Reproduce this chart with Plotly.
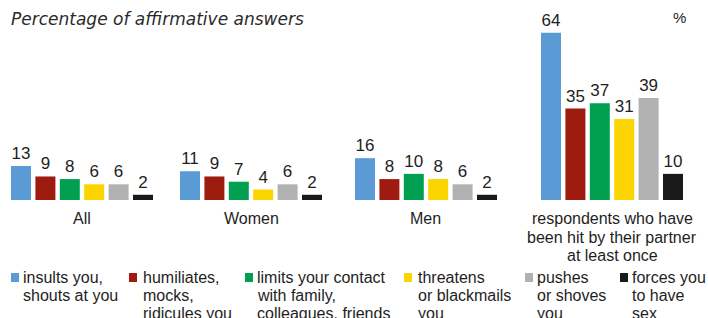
import plotly.graph_objects as go

# ---------------- data ----------------
groups = ["All", "Women", "Men", "respondents who have<br>been hit by their partner<br>at least once"]
series_names = [
    "insults you,<br>shouts at you",
    "humiliates,<br>mocks,<br>ridicules you",
    "limits your contact<br>with family,<br>colleagues, friends",
    "threatens<br>or blackmails<br>you",
    "pushes<br>or shoves<br>you",
    "forces you<br>to have<br>sex",
]
series_colors = ["#5b9bd5", "#9e1b10", "#00a050", "#fcd400", "#b0b1b0", "#1a1a1a"]
# values per series, in group order
insults = [13, 11, 16, 64]
humiliates = [9, 9, 8, 35]
limits = [8, 7, 10, 37]
threatens = [6, 4, 8, 31]
pushes = [6, 6, 6, 39]
forces = [2, 2, 2, 10]
values = [insults, humiliates, limits, threatens, pushes, forces]

title_text = "Percentage of affirmative answers"
unit_text = "%"

# ---------------- layout constants (pixels) ----------------
W, H = 708, 318
top_m, base_y = 17, 200
plot_h = base_y - top_m
group_centers = [82, 251, 426, 612]
slot_w = 160
label_baselines = [224, 242, 260]
legend_sq_x = [11, 129, 245, 404, 525, 620]
legend_txt_x = [23, 143, 257, 418, 537, 632]
legend_baselines = [282, 300, 318]

FONT = "Liberation Sans, Arial, sans-serif"
TXT = "#1e1e1e"


def px_x(x):
    return x / W


def px_y(y):
    return (base_y - y) / plot_h


fig = go.Figure()
axis_ids = ["x", "x2", "x3", "x4"]
for gi, g in enumerate(groups):
    for si, name in enumerate(series_names):
        fig.add_trace(go.Bar(
            x=[g], y=[values[si][gi]],
            xaxis=axis_ids[gi], yaxis="y",
            marker=dict(color=series_colors[si], line=dict(width=0)),
            text=[values[si][gi]], textposition="outside",
            textfont=dict(size=17, color=TXT, family=FONT),
            cliponaxis=False, showlegend=False, name=name.replace("<br>", " "),
        ))

layout = dict(
    width=W, height=H,
    margin=dict(l=0, r=0, t=top_m, b=H - base_y, pad=0),
    paper_bgcolor="white", plot_bgcolor="white",
    barmode="group", bargap=0.085, bargroupgap=0.18,
    showlegend=False,
    yaxis=dict(range=[0, 70], domain=[0, 1], visible=False, fixedrange=True),
    font=dict(family=FONT, color=TXT),
)
for gi, aid in enumerate(axis_ids):
    key = "xaxis" if aid == "x" else "xaxis" + aid[1:]
    c = group_centers[gi]
    layout[key] = dict(
        domain=[px_x(c - slot_w / 2), px_x(c + slot_w / 2)],
        anchor="y", type="category", range=[-0.5, 0.5],
        showline=False, showgrid=False, zeroline=False, ticks="",
        showticklabels=False, fixedrange=True,
    )
fig.update_layout(**layout)

annotations = [
    dict(text="<i>" + title_text + "</i>", x=px_x(9), y=px_y(19), xref="paper", yref="paper",
         xanchor="left", yanchor="middle", showarrow=False,
         font=dict(family="DejaVu Sans, sans-serif", size=17, color="#2a2a2a")),
    dict(text=unit_text, x=px_x(679), y=px_y(17), xref="paper", yref="paper",
         xanchor="center", yanchor="middle", showarrow=False,
         font=dict(family=FONT, size=15, color=TXT)),
]
# category labels under each group
for gi, g in enumerate(groups):
    for li, line in enumerate(g.split("<br>")):
        annotations.append(dict(
            text=line, x=px_x(group_centers[gi]), y=px_y(label_baselines[li] - 5),
            xref="paper", yref="paper", xanchor="center", yanchor="middle",
            showarrow=False, font=dict(family=FONT, size=16, color=TXT)))

# legend built from the series
shapes = []
for si, name in enumerate(series_names):
    sx = legend_sq_x[si]
    shapes.append(dict(type="rect", xref="paper", yref="paper",
                       x0=px_x(sx), x1=px_x(sx + 8), y0=px_y(282), y1=px_y(273),
                       fillcolor=series_colors[si], line=dict(width=0)))
    for li, line in enumerate(name.split("<br>")):
        annotations.append(dict(
            text=line, x=px_x(legend_txt_x[si] - 2), y=px_y(legend_baselines[li] - 5),
            xref="paper", yref="paper", xanchor="left", yanchor="middle",
            showarrow=False, font=dict(family=FONT, size=16, color=TXT)))

fig.update_layout(annotations=annotations, shapes=shapes)

fig.write_html("out.html", config={"displayModeBar": False},
               post_script="document.body.style.margin='0';document.documentElement.style.overflow='hidden';")
